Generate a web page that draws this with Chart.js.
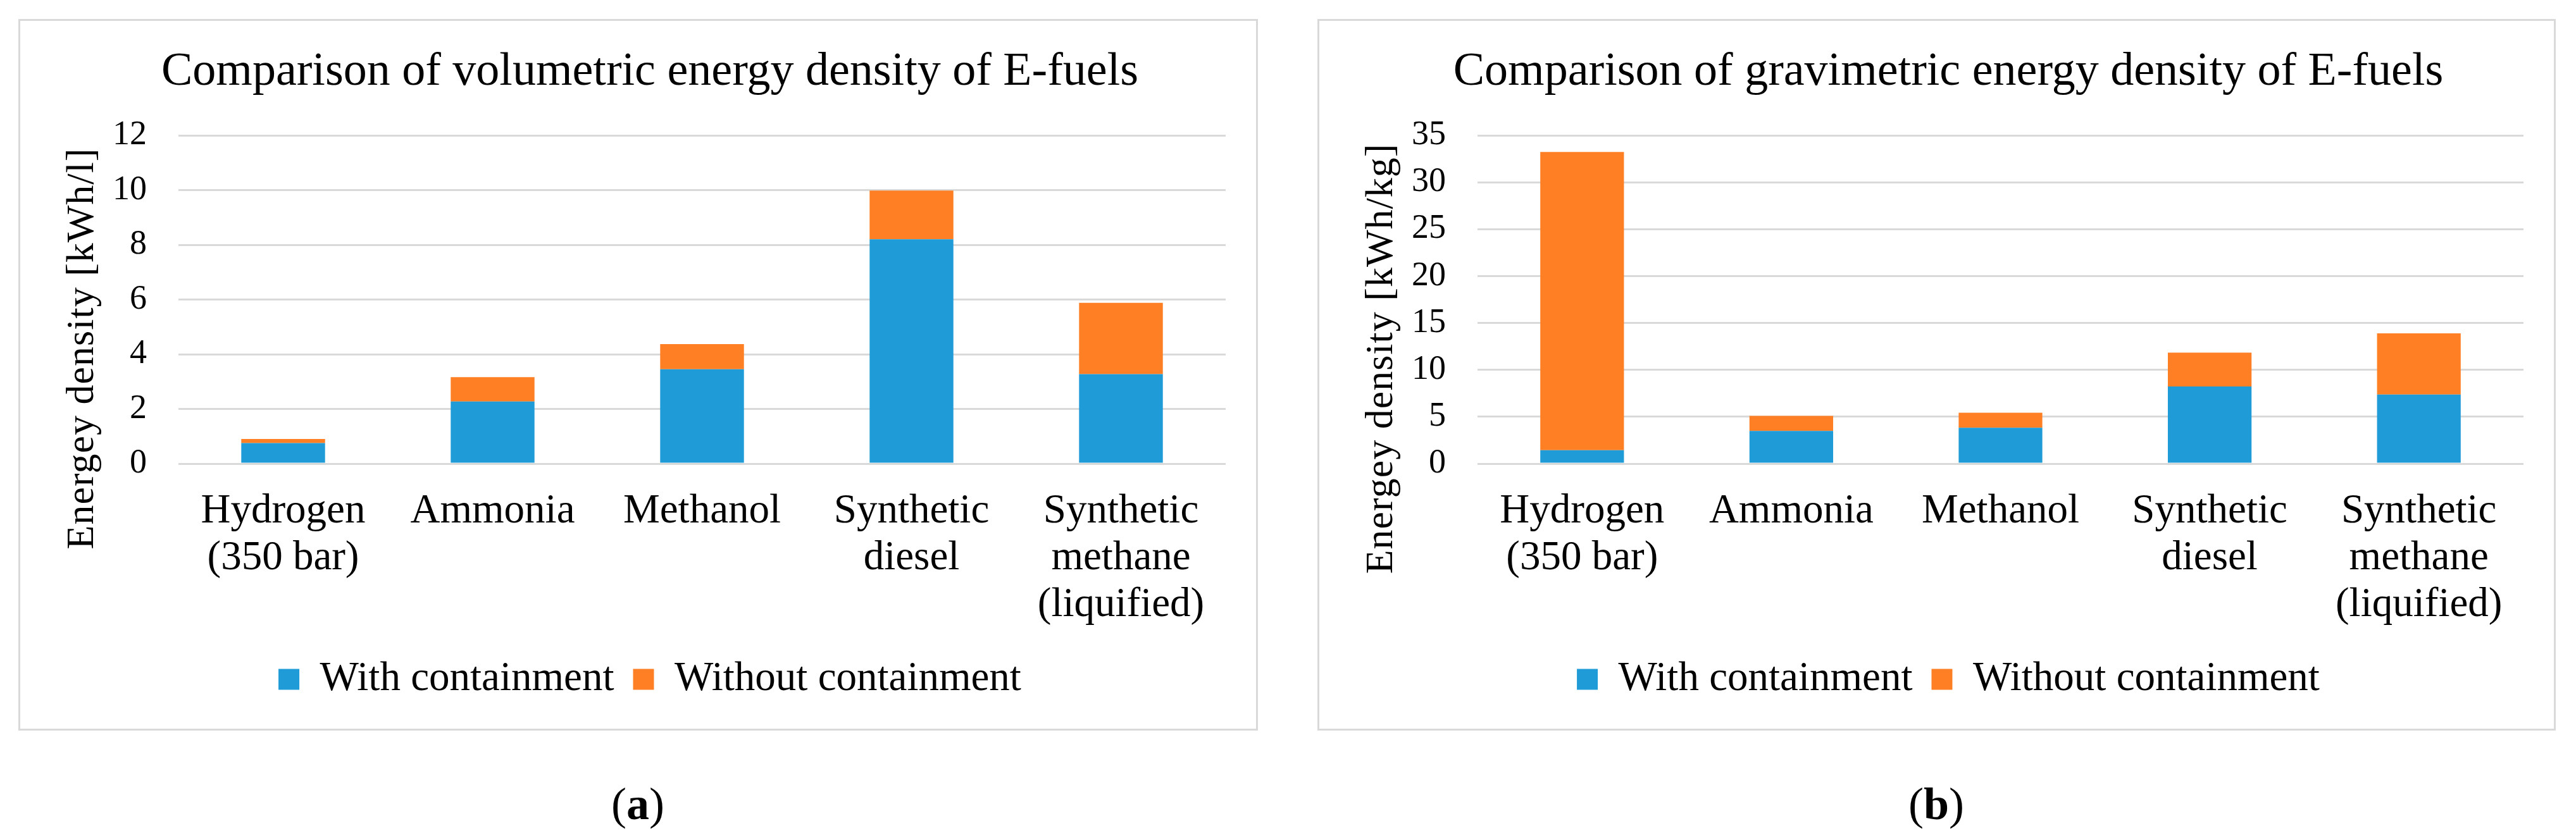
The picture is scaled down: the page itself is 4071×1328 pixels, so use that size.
<!DOCTYPE html>
<html>
<head>
<meta charset="utf-8">
<script src="https://cdn.jsdelivr.net/npm/chart.js@4.4.1/dist/chart.umd.min.js"></script>
<style>
  html, body { margin: 0; padding: 0; background: #fff; }
  body { width: 4071px; height: 1328px; position: relative; overflow: hidden; font-family: "Liberation Serif", "Times New Roman", serif; }
  .panel { position: absolute; top: 30px; height: 1119px; border: 3px solid #d9d9d9; background: #fff; }
  .panel canvas { display: block; }
  .tag { position: absolute; top: 1235px; width: 400px; font-size: 72px; line-height: 72px; text-align: center; color: #000; }
</style>
</head>
<body>
<div class="panel" style="left:29px; width:1953px;"><canvas id="vol" width="1953" height="1119"></canvas></div>
<div class="panel" style="left:2082px; width:1951px;"><canvas id="grav" width="1951" height="1119"></canvas></div>
<div class="tag" style="left:808px;">(<b>a</b>)</div>
<div class="tag" style="left:2860px;">(<b>b</b>)</div>
<script>
  "use strict";

  // Data
  const categories = [["Hydrogen", "(350 bar)"], ["Ammonia"], ["Methanol"], ["Synthetic", "diesel"], ["Synthetic", "methane", "(liquified)"]];
  const seriesNames = ["With containment", "Without containment"];

  // (a) volumetric, kWh/l: blue part and the orange part stacked on it
  const volWith = [0.75, 2.27, 3.45, 8.2, 3.27];
  const volExtra = [0.15, 0.89, 0.92, 1.78, 2.61];
  const volTicks = [0, 2, 4, 6, 8, 10, 12];

  // (b) gravimetric, kWh/kg
  const gravWith = [1.43, 3.49, 3.83, 8.23, 7.36];
  const gravExtra = [31.8, 1.6, 1.6, 3.61, 6.54];
  const gravTicks = [0, 5, 10, 15, 20, 25, 30, 35];

  const FONT = "'Liberation Serif', 'Times New Roman', serif";
  const BLUE = "#1f9bd7";
  const ORANGE = "#fe7f24";

  // rotated axis title, placed where the original has it
  const yTitlePlugin = {
    id: "yTitle",
    afterDraw(chart, args, opts) {
      const ctx = chart.ctx;
      ctx.save();
      ctx.translate(opts.x, opts.y);
      ctx.rotate(-Math.PI / 2);
      ctx.font = opts.size + "px " + FONT;
      if ("letterSpacing" in ctx) ctx.letterSpacing = opts.spacing + "px";
      ctx.fillStyle = "#000";
      ctx.textAlign = "center";
      ctx.textBaseline = "middle";
      ctx.fillText(opts.text, 0, 0);
      ctx.restore();
    }
  };

  function makeChart(id, title, yTitle, withVals, extraVals, tickVals, yPos) {
    return new Chart(document.getElementById(id).getContext("2d"), {
      type: "bar",
      data: {
        labels: categories,
        datasets: [
          { label: seriesNames[0], data: withVals, backgroundColor: BLUE, borderWidth: 0 },
          { label: seriesNames[1], data: extraVals, backgroundColor: ORANGE, borderWidth: 0 }
        ]
      },
      options: {
        responsive: false,
        animation: false,
        devicePixelRatio: 1,
        barPercentage: 0.4,
        categoryPercentage: 1,
        layout: { padding: { left: 85, right: 48, top: 0, bottom: 35.5 } },
        plugins: {
          title: {
            display: true, text: title, color: "#000",
            font: { family: FONT, size: 74, weight: "normal", lineHeight: 1.2 },
            padding: { top: 37.6, bottom: 54.6 }
          },
          legend: {
            position: "bottom",
            labels: {
              color: "#000", boxWidth: 33, boxHeight: 33, padding: 30,
              font: { family: FONT, size: 65 }
            }
          },
          tooltip: { enabled: false },
          yTitle: { text: yTitle, x: yPos.x, y: yPos.y, size: 62, spacing: 1 }
        },
        scales: {
          x: {
            stacked: true,
            grid: { display: false, drawTicks: false },
            border: { display: false },
            ticks: {
              color: "#000", padding: 39, maxRotation: 0, autoSkip: false,
              font: { family: FONT, size: 65, lineHeight: 1.138 }
            },
            afterFit: s => { s.height = 278.5; }
          },
          y: {
            stacked: true,
            min: tickVals[0],
            max: tickVals[tickVals.length - 1],
            grid: { color: "#d9d9d9", lineWidth: 3, drawTicks: false },
            border: { display: false },
            ticks: { color: "#000", padding: 50, font: { family: FONT, size: 54 } },
            afterBuildTicks: s => { s.ticks = tickVals.map(v => ({ value: v })); },
            afterFit: s => { s.width = 165; }
          }
        }
      },
      plugins: [yTitlePlugin]
    });
  }

  makeChart("vol", "Comparison of volumetric energy density of E-fuels",
    "Energey density [kWh/l]", volWith, volExtra, volTicks, { x: 99, y: 518 });
  makeChart("grav", "Comparison of gravimetric energy density of E-fuels",
    "Energey density [kWh/kg]", gravWith, gravExtra, gravTicks, { x: 99, y: 534 });
</script>
</body>
</html>
